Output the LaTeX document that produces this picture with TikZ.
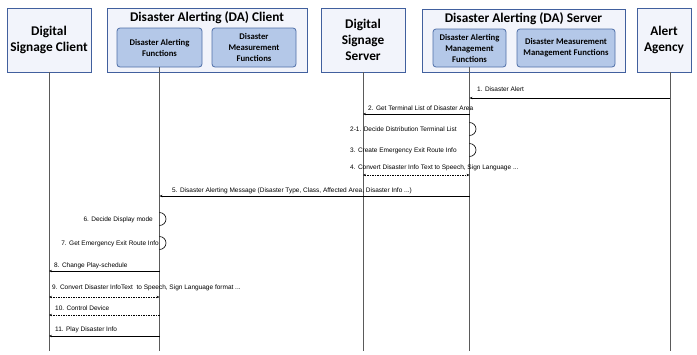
\documentclass[tikz,border=0pt]{standalone}
\usepackage{fontspec}
\setmainfont{Carlito}
\newfontfamily\msgfont{Liberation Sans}
\usetikzlibrary{arrows.meta}
\definecolor{outerfill}{HTML}{F2F4FB}
\definecolor{outerdraw}{HTML}{41609E}
\definecolor{innerfill}{HTML}{B4C8E8}
\definecolor{innerdraw}{HTML}{4F6FA8}
\definecolor{lifecol}{HTML}{5A5A5A}
\begin{document}
\begin{tikzpicture}[x=1pt,y=-1pt,
 outerbox/.style={draw=outerdraw, fill=outerfill, line width=0.9pt, inner sep=0pt},
 innerbox/.style={draw=innerdraw, fill=innerfill, rounded corners=3pt, line width=0.8pt, align=center, font=\bfseries\fontsize{8.7}{11}\selectfont, inner sep=0pt},
 head/.style={font=\bfseries\fontsize{13.3}{16}\selectfont, align=center},
 lifeline/.style={draw=lifecol, line width=1pt},
 msg/.style={line width=0.6pt, -{Stealth[length=3pt,width=2.4pt]}},
 retmsg/.style={msg, dash pattern=on 1.5pt off 1pt},
 bothmsg/.style={line width=0.6pt, dash pattern=on 1.5pt off 1pt, {Stealth[length=3pt,width=2.4pt]}-{Stealth[length=3pt,width=2.4pt]}},
 lbl/.style={font=\msgfont\fontsize{6.5}{7.5}\selectfont, inner sep=0pt, anchor=base west},
 lblr/.style={lbl, anchor=base east},
 selfloop/.style={line width=0.6pt}
]
\useasboundingbox (0,0) rectangle (697,354);

% participants
\node[outerbox, head, minimum width=84pt, minimum height=64pt] (DSC) at (49,40) {Digital\\Signage Client};

\node[outerbox, minimum width=200pt, minimum height=64pt] (DAC) at (207,40) {};
\node[head] (DACt) at (207,18) {Disaster Alerting (DA) Client};
\node[innerbox, minimum width=85pt, minimum height=39pt] (DAF) at (159.5,47.5) {Disaster Alerting\\Functions};
\node[innerbox, minimum width=84pt, minimum height=39pt] (DMF) at (254,47.5) {Disaster\\Measurement\\Functions};

\node[outerbox, head, minimum width=84pt, minimum height=64pt] (DSS) at (363,40) {Digital\\Signage\\Server};

\node[outerbox, minimum width=203pt, minimum height=63pt] (DAS) at (523.5,41) {};
\node[head] (DASt) at (523.5,19) {Disaster Alerting (DA) Server};
\node[innerbox, minimum width=73pt, minimum height=38pt] (DAMF) at (469.5,48) {Disaster Alerting\\Management\\Functions};
\node[innerbox, minimum width=98pt, minimum height=38pt] (DMMF) at (566,48) {Disaster Measurement\\Management Functions};

\node[outerbox, head, minimum width=54pt, minimum height=64pt] (AA) at (664,40) {Alert\\Agency};

% lifelines
\coordinate (AAtop) at (670,72);
\coordinate (DSCbot) at (49,351);
\coordinate (DAFbot) at (159.5,351);
\coordinate (DSSbot) at (363,351);
\coordinate (DAMFbot) at (469.5,351);
\coordinate (AAbot) at (670,351);
\draw[lifeline] (DSC.south) -- (DSCbot);
\draw[lifeline] (DAF.south) -- (DAFbot);
\draw[lifeline] (DSS.south) -- (DSSbot);
\draw[lifeline] (DAMF.south) -- (DAMFbot);
\draw[lifeline] (AAtop) -- (AAbot);

% messages
\draw[msg] (AAtop |- 0,98) -- (DAMF.south |- 0,98);
\node[lbl] (l1) at (477,91.5) {1. Disaster Alert};

\draw[msg] (DAMF.south |- 0,114) -- (DSS.south |- 0,114);
\node[lbl] (l2) at (368,110) {2. Get Terminal List of Disaster Area};

\draw[selfloop] (DAMF.south |- 0,122.5) arc[start angle=-90, end angle=90, radius=6.5];
\node[lbl] (l21) at (350,131) {2-1. Decide Distribution Terminal List};

\draw[selfloop] (DAMF.south |- 0,143.5) arc[start angle=-90, end angle=90, radius=6.5];
\node[lbl] (l3) at (350,152) {3. Create Emergency Exit Route Info};

\draw[bothmsg] (DSS.south |- 0,175) -- (DAMF.south |- 0,175);
\node[lbl] (l4) at (350,169) {4. Convert Disaster Info Text to Speech, Sign Language ...};

\draw[msg] (DAMF.south |- 0,196) -- (DAF.south |- 0,196);
\node[lbl] (l5) at (172,192) {5. Disaster Alerting Message (Disaster Type, Class, Affected Area, Disaster Info ...)};

\draw[selfloop] (DAF.south |- 0,212.5) arc[start angle=-90, end angle=90, radius=6.5];
\node[lblr] (l6) at (153,221) {6. Decide Display mode};

\draw[selfloop] (DAF.south |- 0,236.5) arc[start angle=-90, end angle=90, radius=6.5];
\node[lblr] (l7) at (159,245) {7. Get Emergency Exit Route Info};

\draw[msg] (DAF.south |- 0,271) -- (DSC.south |- 0,271);
\node[lbl] (l8) at (54,267) {8. Change Play-schedule};

\draw[bothmsg] (DSC.south |- 0,297) -- (DAF.south |- 0,297);
\node[lbl] (l9) at (52,289) {9. Convert Disaster InfoText\ \ to Speech, Sign Language format ...};

\draw[retmsg] (DAF.south |- 0,315) -- (DSC.south |- 0,315);
\node[lbl] (l10) at (55,310) {10. Control Device};

\draw[msg] (DAF.south |- 0,336) -- (DSC.south |- 0,336);
\node[lbl] (l11) at (55,331) {11. Play Disaster Info};
\end{tikzpicture}
\end{document}
